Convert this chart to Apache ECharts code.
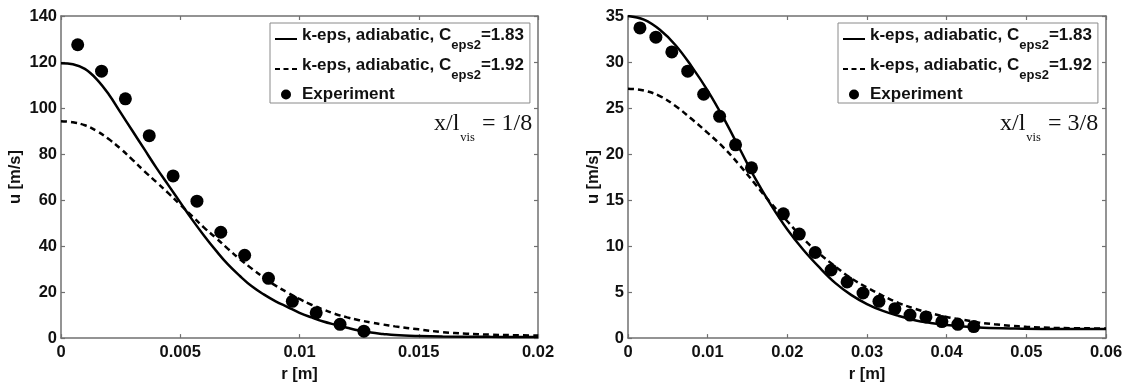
<!DOCTYPE html>
<html>
<head>
<meta charset="utf-8">
<script src="https://cdn.jsdelivr.net/npm/echarts@6/dist/echarts.min.js"></script>
<style>html,body{margin:0;padding:0;background:#fff}#c{width:1127px;height:388px}</style>
</head>
<body>
<div id="c"></div>
<script>
// ---- Data (left panel: x/l_vis = 1/8) ----
const leftSolidR = [0, 0.0005, 0.001, 0.0015, 0.002, 0.0025, 0.003, 0.0035, 0.004, 0.0045, 0.005, 0.0055, 0.006, 0.0065, 0.007, 0.0075, 0.008, 0.0085, 0.009, 0.0095, 0.01, 0.0105, 0.011, 0.0115, 0.012, 0.0125, 0.013, 0.0135, 0.014, 0.015, 0.016, 0.018, 0.02];
const leftSolidU = [119.5, 119, 117, 112.5, 106, 98, 90, 82, 74, 66.5, 59, 51.5, 44.5, 38, 32, 27, 22.5, 19, 16, 13.5, 11, 9, 7.2, 5.8, 4.5, 3.3, 2.4, 1.8, 1.3, 0.9, 0.7, 0.55, 0.5];
const leftDashR = [0, 0.0005, 0.001, 0.0015, 0.002, 0.0025, 0.003, 0.0035, 0.004, 0.0045, 0.005, 0.0055, 0.006, 0.0065, 0.007, 0.0075, 0.008, 0.0085, 0.009, 0.0095, 0.01, 0.0105, 0.011, 0.0115, 0.012, 0.0125, 0.013, 0.0135, 0.014, 0.015, 0.016, 0.017, 0.018, 0.019, 0.02];
const leftDashU = [94.3, 93.8, 92.5, 90, 86.5, 82.3, 77.5, 72.5, 67.8, 63, 58, 53, 48, 43.5, 38.8, 34.3, 30.2, 26.3, 22.8, 19.8, 17, 14.5, 12.4, 10.5, 9, 7.8, 6.8, 5.9, 5.1, 3.8, 2.6, 1.9, 1.5, 1.25, 1.1];
const leftExpR = [0.0007, 0.0017, 0.0027, 0.0037, 0.0047, 0.0057, 0.0067, 0.0077, 0.0087, 0.0097, 0.0107, 0.0117, 0.0127];
const leftExpU = [127.5, 116, 104, 88, 70.5, 59.5, 46, 36, 26, 16, 11, 6, 3];

// ---- Data (right panel: x/l_vis = 3/8) ----
const rightSolidR = [0, 0.002, 0.004, 0.006, 0.008, 0.01, 0.012, 0.014, 0.016, 0.018, 0.02, 0.022, 0.024, 0.026, 0.028, 0.03, 0.032, 0.034, 0.036, 0.038, 0.04, 0.044, 0.048, 0.052, 0.06];
const rightSolidU = [35, 34.6, 33.5, 31.8, 29.5, 26.9, 23.9, 20.6, 17.3, 14.4, 11.8, 9.6, 7.7, 6.0, 4.7, 3.7, 2.95, 2.4, 1.95, 1.65, 1.42, 1.15, 1.05, 1.0, 1.0];
const rightDashR = [0, 0.002, 0.004, 0.006, 0.008, 0.01, 0.012, 0.014, 0.016, 0.018, 0.02, 0.022, 0.024, 0.026, 0.028, 0.03, 0.032, 0.034, 0.036, 0.038, 0.04, 0.042, 0.044, 0.046, 0.048, 0.05, 0.054, 0.06];
const rightDashU = [27.1, 26.9, 26.3, 25.2, 23.8, 22.3, 20.7, 18.8, 16.7, 14.6, 12.7, 10.8, 9.2, 7.8, 6.5, 5.5, 4.6, 3.8, 3.2, 2.7, 2.3, 2.0, 1.7, 1.5, 1.35, 1.22, 1.1, 1.05];
const rightExpR = [0.0015, 0.0035, 0.0055, 0.0075, 0.0095, 0.0115, 0.0135, 0.0155, 0.0195, 0.0215, 0.0235, 0.0255, 0.0275, 0.0295, 0.0315, 0.0335, 0.0354, 0.0374, 0.0394, 0.0414, 0.0434];
const rightExpU = [33.7, 32.7, 31.1, 29.0, 26.5, 24.1, 21.0, 18.5, 13.5, 11.3, 9.3, 7.4, 6.1, 4.9, 4.0, 3.2, 2.5, 2.3, 1.8, 1.5, 1.25];

// ---- Axes / labels ----
const leftX = {min: 0, max: 0.02, interval: 0.005};
const leftY = {min: 0, max: 140, interval: 20};
const rightX = {min: 0, max: 0.06, interval: 0.01};
const rightY = {min: 0, max: 35, interval: 5};
const xTitle = 'r [m]';
const yTitle = 'u [m/s]';
const seriesNames = ['k-eps, adiabatic, Ceps2=1.83', 'k-eps, adiabatic, Ceps2=1.92', 'Experiment'];
const legendMain = ['k-eps, adiabatic, C', 'k-eps, adiabatic, C', 'Experiment'];
const legendSub = ['eps2', 'eps2', ''];
const legendTail = ['=1.83', '=1.92', ''];
const annotMain = ['x/l', 'x/l'];
const annotSub = ['vis', 'vis'];
const annotTail = [' = 1/8', ' = 3/8'];

const zip = (a, b) => a.map((v, i) => [v, b[i]]);
const SANS = '"Liberation Sans", Arial, Helvetica, sans-serif';
const SERIF = '"Liberation Serif", "Times New Roman", serif';
const AXIS_COLOR = '#707070';

function fmtTick(v) {
  if (v === 0) return '0';
  return String(+v.toFixed(4));
}

const grids = [
  {left: 61, top: 16, width: 477, height: 329},
  {left: 628, top: 16, width: 478, height: 329}
];

const tickStyle = {show: true, inside: true, length: 4, lineStyle: {color: AXIS_COLOR, width: 1.2}};
const lineAx = {show: true, onZero: false, lineStyle: {color: AXIS_COLOR, width: 1.5}};

function mainX(gi, sc) {
  return {
    type: 'value', gridIndex: gi, position: 'bottom', min: sc.min, max: sc.max, interval: sc.interval,
    name: xTitle, nameLocation: 'middle', nameGap: 23,
    nameTextStyle: {fontFamily: SANS, fontWeight: 'bold', fontSize: 16.5, color: '#111'},
    axisLine: lineAx, axisTick: tickStyle,
    axisLabel: {fontFamily: SANS, fontWeight: 'bold', fontSize: 16.5, color: '#111', margin: 6, formatter: fmtTick, showMinLabel: true, showMaxLabel: true},
    splitLine: {show: false}
  };
}
function mirrorX(gi, sc) {
  return {
    type: 'value', gridIndex: gi, position: 'top', min: sc.min, max: sc.max, interval: sc.interval,
    axisLine: lineAx, axisTick: tickStyle, axisLabel: {show: false}, splitLine: {show: false}
  };
}
function mainY(gi, sc, gap) {
  return {
    type: 'value', gridIndex: gi, position: 'left', min: sc.min, max: sc.max, interval: sc.interval,
    name: yTitle, nameLocation: 'middle', nameGap: gap, nameRotate: 90,
    nameTextStyle: {fontFamily: SANS, fontWeight: 'bold', fontSize: 16.5, color: '#111'},
    axisLine: lineAx, axisTick: tickStyle,
    axisLabel: {fontFamily: SANS, fontWeight: 'bold', fontSize: 16.5, color: '#111', margin: 4, showMinLabel: true, showMaxLabel: true},
    splitLine: {show: false}
  };
}
function mirrorY(gi, sc) {
  return {
    type: 'value', gridIndex: gi, position: 'right', min: sc.min, max: sc.max, interval: sc.interval,
    axisLine: lineAx, axisTick: tickStyle, axisLabel: {show: false}, splitLine: {show: false}
  };
}

function lineSeries(name, xi, yi, data, dashed) {
  return {
    name: name, type: 'line', xAxisIndex: xi, yAxisIndex: yi, data: data,
    showSymbol: false, symbol: 'none', smooth: 0.4,
    lineStyle: {color: '#000', width: 2.5, type: dashed ? [6, 4] : 'solid'},
    itemStyle: {color: '#000'}, z: 3, silent: true
  };
}
function expSeries(name, xi, yi, data) {
  return {
    name: name, type: 'scatter', xAxisIndex: xi, yAxisIndex: yi, data: data,
    symbol: 'circle', symbolSize: 13, itemStyle: {color: '#000', opacity: 1}, z: 4, silent: true
  };
}

const rich = {
  a: {fontFamily: SANS, fontWeight: 'bold', fontSize: 17, color: '#111', lineHeight: 18, padding: [0, 0, 8, 0]},
  s: {fontFamily: SANS, fontWeight: 'bold', fontSize: 13, color: '#111', lineHeight: 13, padding: [13, 0, 0, 0]},
  e: {fontFamily: SANS, fontWeight: 'bold', fontSize: 17, color: '#111', lineHeight: 18}
};
function legendFmt(name) {
  const i = seriesNames.indexOf(name);
  if (!legendSub[i]) return '{e|' + legendMain[i] + '}';
  return '{a|' + legendMain[i] + '}{s|' + legendSub[i] + '}{a|' + legendTail[i] + '}';
}
function makeLegend(left) {
  return {
    orient: 'vertical', left: left, top: 23,
    padding: [3, 6, 0, 5], itemGap: 4, itemWidth: 22, itemHeight: 10,
    backgroundColor: '#fff', borderColor: '#8a8a8a', borderWidth: 1, borderRadius: 0,
    selectedMode: false,
    formatter: legendFmt,
    textStyle: {rich: rich, fontFamily: SANS, fontWeight: 'bold', fontSize: 17, color: '#111'},
    data: [
      {name: seriesNames[0], icon: 'path://M0,4H22V6H0Z', itemStyle: {color: '#000', borderWidth: 0}},
      {name: seriesNames[1], icon: 'path://M0,4H5V6H0Z M8.5,4H13.5V6H8.5Z M17,4H22V6H17Z', itemStyle: {color: '#000', borderWidth: 0}},
      {name: seriesNames[2], icon: 'circle', itemStyle: {color: '#000', borderWidth: 0}}
    ]
  };
}

const annRich = {
  a: {fontFamily: SERIF, fontSize: 24, fill: '#111', lineHeight: 26, padding: [0, 0, 10, 0]},
  s: {fontFamily: SERIF, fontSize: 12.5, fill: '#111', lineHeight: 13, padding: [20, 1, 3, 1]}
};
function annText(i) {
  return '{a|' + annotMain[i] + '}{s|' + annotSub[i] + '}{a|' + annotTail[i] + '}';
}

const option = {
  animation: false,
  backgroundColor: '#fff',
  grid: grids,
  xAxis: [mainX(0, leftX), mirrorX(0, leftX), mainX(1, rightX), mirrorX(1, rightX)],
  yAxis: [mainY(0, leftY, 37), mirrorY(0, leftY), mainY(1, rightY, 24), mirrorY(1, rightY)],
  legend: [makeLegend(270), makeLegend(838)],
  series: [
    lineSeries(seriesNames[0], 0, 0, zip(leftSolidR, leftSolidU), false),
    lineSeries(seriesNames[1], 0, 0, zip(leftDashR, leftDashU), true),
    expSeries(seriesNames[2], 0, 0, zip(leftExpR, leftExpU)),
    lineSeries(seriesNames[0], 2, 2, zip(rightSolidR, rightSolidU), false),
    lineSeries(seriesNames[1], 2, 2, zip(rightDashR, rightDashU), true),
    expSeries(seriesNames[2], 2, 2, zip(rightExpR, rightExpU))
  ],
  graphic: [
    {type: 'text', left: 434, top: 111, z: 10, style: {text: annText(0), rich: annRich, font: '24px ' + SERIF, fill: '#111'}},
    {type: 'text', left: 1000, top: 111, z: 10, style: {text: annText(1), rich: annRich, font: '24px ' + SERIF, fill: '#111'}}
  ]
};

const chart = echarts.init(document.getElementById('c'), null, {renderer: 'canvas'});
chart.setOption(option);
</script>
</body>
</html>
